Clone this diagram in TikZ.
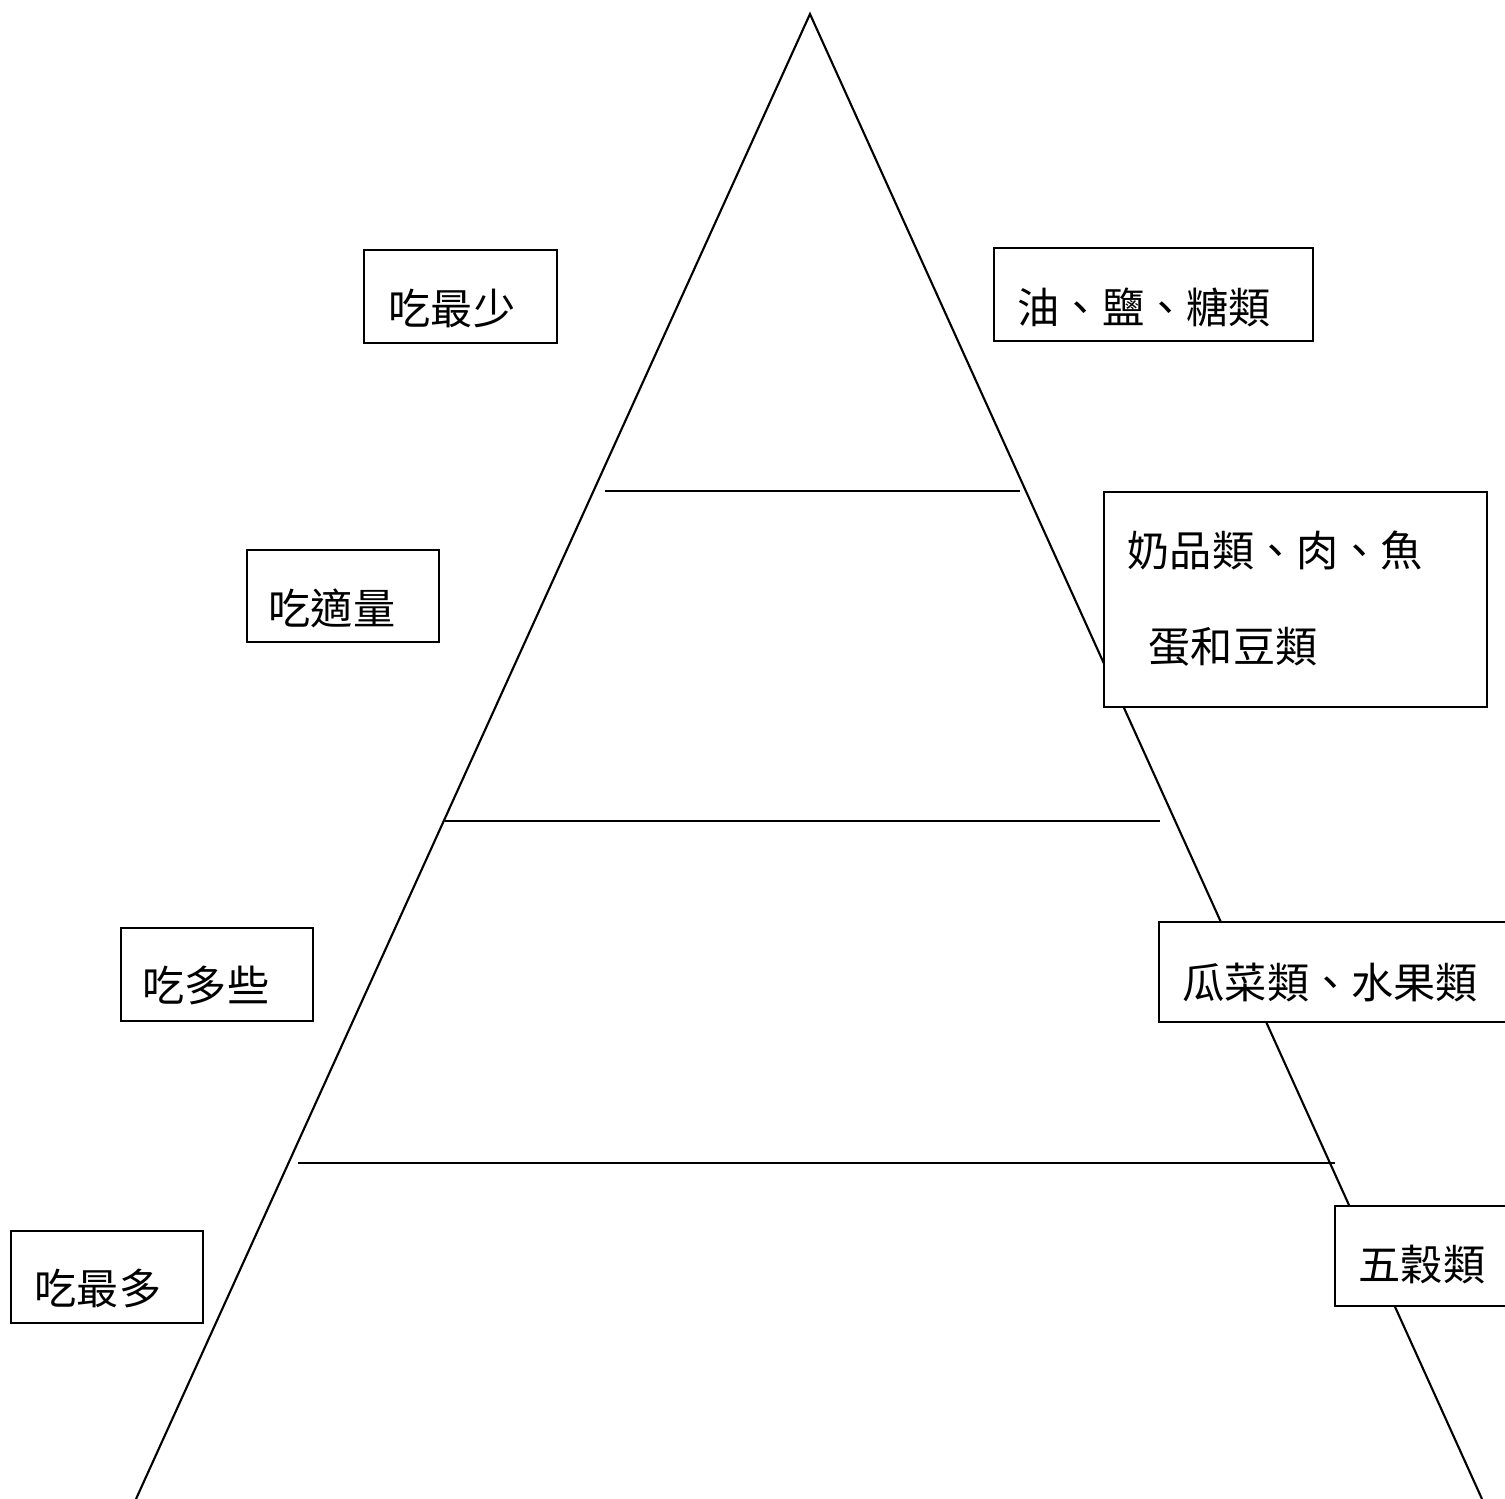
\documentclass[tikz,border=0pt]{standalone}
\usepackage{fontspec}
\newfontfamily\cjk{Noto Sans CJK TC}
\usetikzlibrary{positioning,calc}
\tikzstyle{block} = [rectangle, draw, fill=white, line width=0.6pt, anchor=north west, inner sep=0pt]
\tikzstyle{word} = [anchor=west, inner sep=0pt, font=\cjk\fontsize{12}{14}\selectfont]

\begin{document}
\begin{tikzpicture}[x=0.01cm, y=-0.01cm]
   \useasboundingbox (0,0) rectangle (1505,1499);
   % Pyramid
   \coordinate (top) at (810,14);
   \coordinate (bl) at (136,1499);
   \coordinate (br) at (1482,1499);
   \draw[line width=0.6pt] (bl) -- (top) -- (br);
   % Layer lines
   \coordinate (l1a) at (605,491);  \coordinate (l1b) at (1020,491);
   \coordinate (l2a) at (445,821);  \coordinate (l2b) at (1160,821);
   \coordinate (l3a) at (298,1163); \coordinate (l3b) at (1335,1163);
   \draw[line width=0.35pt] (l1a) -- (l1b);
   \draw[line width=0.35pt] (l2a) -- (l2b);
   \draw[line width=0.35pt] (l3a) -- (l3b);

   % Place boxes
   \node [block, minimum width=1.93cm, minimum height=0.93cm] (least) at (363,249) {};
   \node [block, minimum width=3.19cm, minimum height=0.93cm] (fats) at (993,247) {};
   \node [block, minimum width=1.92cm, minimum height=0.92cm] (moderate) at (246,549) {};
   \node [block, minimum width=3.83cm, minimum height=2.15cm] (protein) at (1103,491) {};
   \node [block, minimum width=1.92cm, minimum height=0.93cm] (more) at (120,927) {};
   \node [block, minimum width=3.60cm, minimum height=1.00cm] (veg) at (1158,921) {};
   \node [block, minimum width=1.92cm, minimum height=0.92cm] (most) at (10,1230) {};
   \node [block, minimum width=1.80cm, minimum height=1.00cm] (grain) at (1334,1205) {};

   % Texts
   \node [word] (leastT) at ($(least.north west)+(25,59)$) {吃最少};
   \node [word] (fatsT) at ($(fats.north west)+(24,60)$) {油、鹽、糖類};
   \node [word] (moderateT) at ($(moderate.north west)+(22,59)$) {吃適量};
   \node [word] (proteinT) at ($(protein.north west)+(24,59)$) {奶品類、肉、魚};
   \node [word] (proteinU) at ($(protein.north west)+(45,156)$) {蛋和豆類};
   \node [word] (moreT) at ($(more.north west)+(22,58)$) {吃多些};
   \node [word] (vegT) at ($(veg.north west)+(24,61)$) {瓜菜類、水果類};
   \node [word] (mostT) at ($(most.north west)+(24,58)$) {吃最多};
   \node [word] (grainT) at ($(grain.north west)+(24,60)$) {五穀類};
\end{tikzpicture}
\end{document}
